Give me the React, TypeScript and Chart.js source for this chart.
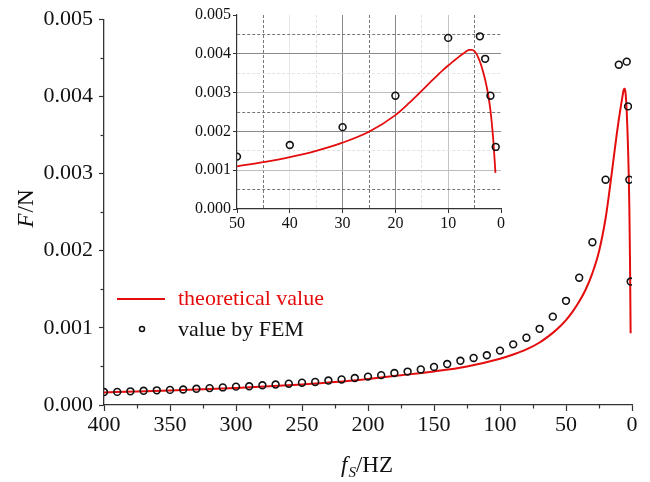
import React, { useEffect, useRef } from 'react';
import { Chart, registerables } from 'chart.js';
Chart.register(...registerables);

// ---------- data ----------
const femFreq = [400, 390, 380, 370, 360, 350, 340, 330, 320, 310, 300, 290, 280, 270, 260, 250, 240, 230, 220, 210, 200, 190, 180, 170, 160, 150, 140, 130, 120, 110, 100, 90, 80, 70, 60, 50, 40, 30, 20, 10, 4, 3, 2, 1];
const femForce = [0.000168, 0.000170, 0.000177, 0.000184, 0.000190, 0.000196, 0.000201, 0.000210, 0.000219, 0.000228, 0.000238, 0.000243, 0.000256, 0.000265, 0.000276, 0.000289, 0.000299, 0.000317, 0.000331, 0.000349, 0.000368, 0.000387, 0.000414, 0.000433, 0.000461, 0.000494, 0.000531, 0.000573, 0.000610, 0.000645, 0.000705, 0.000786, 0.000872, 0.000987, 0.001145, 0.00135, 0.00165, 0.00211, 0.00292, 0.00441, 0.00445, 0.00387, 0.00292, 0.00160];

const theoryFreq = [400, 375, 350, 325, 300, 275, 250, 225, 200, 175, 150, 125, 100, 90, 80, 70, 60, 55, 50, 45, 40, 35, 30, 25, 20, 17.5, 15, 13, 12, 11, 10, 9, 8, 7, 6.5, 6, 5.5, 5, 4.5, 4, 3.5, 3, 2.5, 2, 1.5, 1.05];
const theoryForce = [0.000163, 0.000175, 0.000189, 0.000204, 0.000221, 0.000242, 0.000267, 0.000298, 0.000338, 0.000385, 0.000435, 0.000500, 0.000600, 0.000655, 0.000720, 0.000810, 0.000935, 0.00101, 0.00110, 0.00121, 0.00134, 0.00150, 0.00171, 0.00199, 0.00242, 0.00272, 0.00305, 0.00332, 0.00345, 0.00358, 0.00370, 0.00381, 0.00392, 0.00402, 0.00407, 0.00410, 0.00410, 0.00406, 0.00396, 0.00380, 0.00359, 0.00333, 0.00300, 0.00255, 0.00185, 0.00093];

const mainXTicks = [400, 350, 300, 250, 200, 150, 100, 50, 0];
const mainXMinorTicks = [375, 325, 275, 225, 175, 125, 75, 25];
const mainYTicks = [0, 0.001, 0.002, 0.003, 0.004, 0.005];
const mainYMinorTicks = [0.0005, 0.0015, 0.0025, 0.0035, 0.0045];

const insetXTicks = [50, 40, 30, 20, 10, 0];
const insetXMinorTicks = [45, 35, 25, 15, 5];
const insetYTicks = [0, 0.001, 0.002, 0.003, 0.004, 0.005];
const insetYMinorTicks = [0.0005, 0.0015, 0.0025, 0.0035, 0.0045];

const seriesNames = ['theoretical value', 'value by FEM'];
const xTitle = { italic: 'f', sub: 'S', rest: '/HZ' };
const yTitle = { italic: 'F', rest: '/N' };

// ---------- styles ----------
const RED = 'rgb(228, 12, 12)';
const AXIS = '#333';
const SERIF = "'Liberation Serif', 'Times New Roman', serif";

const femPoints = femFreq.map((f, i) => ({ x: f, y: femForce[i] }));
const theoryPoints = theoryFreq.map((f, i) => ({ x: f, y: theoryForce[i] }));

const setTicks = (vals: number[]) => (scale: any) => {
  scale.ticks = vals.map((v) => ({ value: v }));
};

const mainOverlay = {
  id: 'mainOverlay',
  afterDraw(chart: any) {
    const { ctx, scales, chartArea } = chart;
    const x = scales.x;
    const y = scales.y;
    ctx.save();
    // minor ticks
    ctx.strokeStyle = AXIS;
    ctx.lineWidth = 1.2;
    mainXMinorTicks.forEach((v) => {
      const px = Math.round(x.getPixelForValue(v)) + 0.5;
      ctx.beginPath();
      ctx.moveTo(px, chartArea.bottom);
      ctx.lineTo(px, chartArea.bottom + 3.5);
      ctx.stroke();
    });
    mainYMinorTicks.forEach((v) => {
      const py = Math.round(y.getPixelForValue(v)) + 0.5;
      ctx.beginPath();
      ctx.moveTo(chartArea.left, py);
      ctx.lineTo(chartArea.left - 3.5, py);
      ctx.stroke();
    });

    // y title
    ctx.fillStyle = '#111';
    ctx.textBaseline = 'middle';
    ctx.textAlign = 'left';
    ctx.save();
    ctx.translate(27, 209);
    ctx.rotate(-Math.PI / 2);
    ctx.font = `italic 23px ${SERIF}`;
    const wF = ctx.measureText(yTitle.italic).width;
    ctx.font = `23px ${SERIF}`;
    const wN = ctx.measureText(yTitle.rest).width;
    const sx = -(wF + wN) / 2;
    ctx.font = `italic 23px ${SERIF}`;
    ctx.fillText(yTitle.italic, sx, 0);
    ctx.font = `23px ${SERIF}`;
    ctx.fillText(yTitle.rest, sx + wF + 1, 0);
    ctx.restore();

    // x title
    ctx.textBaseline = 'alphabetic';
    ctx.font = `italic 23px ${SERIF}`;
    const wf = ctx.measureText(xTitle.italic).width;
    ctx.font = `italic 15px ${SERIF}`;
    const ws = ctx.measureText(xTitle.sub).width;
    ctx.font = `23px ${SERIF}`;
    const wr = ctx.measureText(xTitle.rest).width;
    const total = wf + 1 + ws + wr;
    let tx = 367 - total / 2;
    const base = 472;
    ctx.font = `italic 23px ${SERIF}`;
    ctx.fillText(xTitle.italic, tx, base);
    tx += wf + 1;
    ctx.font = `italic 15px ${SERIF}`;
    ctx.fillText(xTitle.sub, tx, base + 5);
    tx += ws;
    ctx.font = `23px ${SERIF}`;
    ctx.fillText(xTitle.rest, tx, base);

    // legend
    ctx.strokeStyle = RED;
    ctx.lineWidth = 2;
    ctx.beginPath();
    ctx.moveTo(117, 299);
    ctx.lineTo(165, 299);
    ctx.stroke();
    ctx.font = `22px ${SERIF}`;
    ctx.textBaseline = 'middle';
    ctx.fillStyle = RED;
    ctx.fillText(seriesNames[0], 178, 299);
    ctx.strokeStyle = '#111';
    ctx.lineWidth = 1.5;
    ctx.beginPath();
    ctx.arc(142, 329, 2.5, 0, Math.PI * 2);
    ctx.stroke();
    ctx.fillStyle = '#111';
    ctx.fillText(seriesNames[1], 178, 330);
    ctx.restore();
  },
};

const key4 = (v: number) => Math.round(v * 10000);

const insetYGridColor = (v: number) => {
  const k = key4(v);
  if (k === 0 || k === 50) return 'rgba(0,0,0,0)';
  if (k === 5 || k === 25 || k === 45) return '#777';
  if (k === 15 || k === 35) return '#e2e2e2';
  if (k === 20 || k === 40) return '#8a8a8a';
  return '#bdbdbd';
};
const insetXGridColor = (v: number) => {
  const k = Math.round(v);
  if (k === 0 || k === 50) return 'rgba(0,0,0,0)';
  if (k === 45 || k === 25 || k === 5) return '#777';
  if (k === 35 || k === 15) return '#e2e2e2';
  if (k === 30 || k === 20) return '#8a8a8a';
  if (k === 40) return '#e8e8e8';
  return '#c4c4c4';
};

export default function App() {
  const mainRef = useRef<HTMLCanvasElement>(null);
  const insetRef = useRef<HTMLCanvasElement>(null);

  useEffect(() => {
    document.body.style.margin = '0';
    const tickFont = { family: SERIF, size: 22 };
    const main = new Chart(mainRef.current!, {
      type: 'scatter',
      data: {
        datasets: [
          {
            label: seriesNames[1],
            data: femPoints,
            showLine: false,
            pointRadius: 3.4,
            pointBorderWidth: 1.6,
            pointBorderColor: '#111',
            pointBackgroundColor: 'rgba(255,255,255,0)',
            order: 0,
          },
          {
            label: seriesNames[0],
            data: theoryPoints,
            showLine: true,
            borderColor: RED,
            borderWidth: 2,
            pointRadius: 0,
            cubicInterpolationMode: 'monotone',
            order: 1,
          },
        ],
      },
      options: {
        responsive: false,
        animation: false,
        layout: { padding: { top: 15, right: 18, left: 0, bottom: 0 } },
        plugins: { legend: { display: false }, tooltip: { enabled: false } },
        scales: {
          x: {
            type: 'linear',
            reverse: true,
            min: 0,
            max: 400,
            afterBuildTicks: setTicks(mainXTicks),
            afterFit: (s: any) => { s.height = 77; },
            grid: { drawOnChartArea: false, tickLength: 6, tickColor: AXIS, tickWidth: 1.2 },
            border: { color: AXIS, width: 1.3 },
            ticks: { font: tickFont, color: '#111', padding: 1, maxRotation: 0, autoSkip: false, callback: (v: any) => String(v) },
          },
          y: {
            type: 'linear',
            min: 0,
            max: 0.005,
            afterBuildTicks: setTicks(mainYTicks),
            afterFit: (s: any) => { s.width = 104; },
            grid: { drawOnChartArea: false, tickLength: 5, tickColor: AXIS, tickWidth: 1.2 },
            border: { color: AXIS, width: 1.3 },
            ticks: { font: tickFont, color: '#111', padding: 6, autoSkip: false, callback: (v: any) => Number(v).toFixed(3) },
          },
        },
      },
      plugins: [mainOverlay],
    } as any);

    const insetFem = femPoints.filter((p) => p.x <= 50);
    const insetTheory = theoryPoints.filter((p) => p.x <= 50);
    const insetFont = { family: SERIF, size: 16 };
    const inset = new Chart(insetRef.current!, {
      type: 'scatter',
      data: {
        datasets: [
          {
            label: seriesNames[1],
            data: insetFem,
            showLine: false,
            pointRadius: 3.4,
            pointBorderWidth: 1.6,
            pointBorderColor: '#111',
            pointBackgroundColor: 'rgba(255,255,255,0)',
            order: 0,
          },
          {
            label: seriesNames[0],
            data: insetTheory,
            showLine: true,
            borderColor: RED,
            borderWidth: 1.8,
            pointRadius: 0,
            cubicInterpolationMode: 'monotone',
            order: 1,
          },
        ],
      },
      options: {
        responsive: false,
        animation: false,
        layout: { padding: { top: 15, right: 9, left: 0, bottom: 0 } },
        plugins: { legend: { display: false }, tooltip: { enabled: false } },
        scales: {
          x: {
            type: 'linear',
            reverse: true,
            min: 0,
            max: 50,
            afterBuildTicks: setTicks([...insetXTicks, ...insetXMinorTicks].sort((a, b) => b - a)),
            afterFit: (s: any) => { s.height = 26; },
            grid: {
              drawOnChartArea: true,
              tickLength: 4,
              lineWidth: 1,
              color: (c: any) => insetXGridColor(c.tick ? c.tick.value : 0),
              tickColor: (c: any) => (c.tick && insetXTicks.includes(Math.round(c.tick.value)) ? AXIS : 'rgba(0,0,0,0)'),
            },
            border: {
              color: AXIS,
              width: 1.2,
              dash: (c: any) => (c.tick && insetXMinorTicks.includes(Math.round(c.tick.value)) ? [3, 2] : []),
            },
            ticks: {
              font: insetFont,
              color: '#111',
              padding: 1,
              maxRotation: 0,
              autoSkip: false,
              callback: (v: any) => (insetXTicks.includes(Math.round(Number(v))) ? String(Math.round(Number(v))) : ''),
            },
          },
          y: {
            type: 'linear',
            min: 0,
            max: 0.005,
            afterBuildTicks: setTicks([...insetYTicks, ...insetYMinorTicks].sort((a, b) => a - b)),
            afterFit: (s: any) => { s.width = 67; },
            grid: {
              drawOnChartArea: true,
              tickLength: 4,
              lineWidth: 1,
              color: (c: any) => insetYGridColor(c.tick ? c.tick.value : 0),
              tickColor: (c: any) => (c.tick && key4(c.tick.value) % 10 === 0 ? AXIS : 'rgba(0,0,0,0)'),
            },
            border: {
              color: AXIS,
              width: 1.2,
              dash: (c: any) => (c.tick && key4(c.tick.value) % 10 !== 0 ? [3, 2] : []),
            },
            ticks: {
              font: insetFont,
              color: '#111',
              padding: 2,
              autoSkip: false,
              callback: (v: any) => (key4(Number(v)) % 10 === 0 ? Number(v).toFixed(3) : ''),
            },
          },
        },
      },
    } as any);

    return () => {
      main.destroy();
      inset.destroy();
    };
  }, []);

  return (
    <div style={{ position: 'relative', width: 650, height: 482, background: '#fff' }}>
      <canvas ref={mainRef} width={650} height={482} style={{ position: 'absolute', left: 0, top: 0 }} />
      <canvas ref={insetRef} width={340} height={235} style={{ position: 'absolute', left: 170, top: 0 }} />
    </div>
  );
}
